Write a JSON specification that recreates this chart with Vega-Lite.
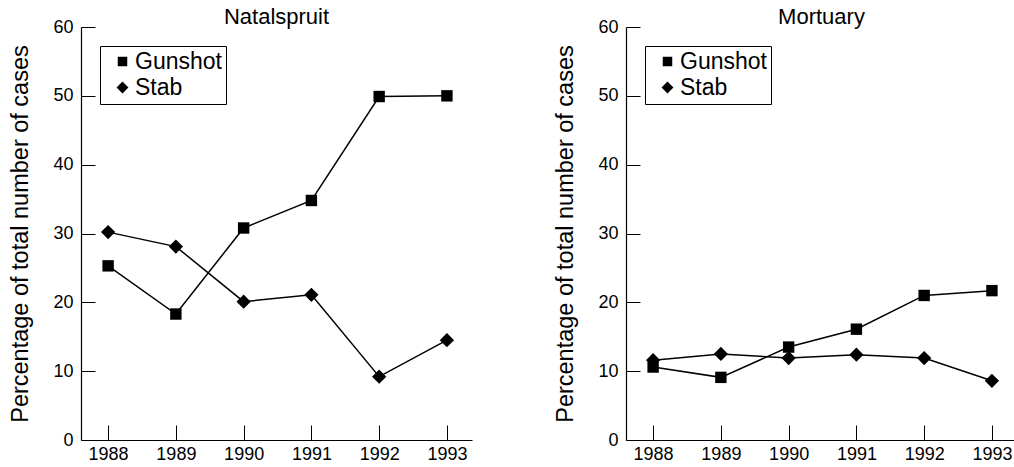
{
  "$schema": "https://vega.github.io/schema/vega-lite/v6.json",
  "padding": {"left": 8, "top": 6, "right": 0, "bottom": 0},
  "spacing": 81,
  "config": {
    "font": "Liberation Sans",
    "view": {"stroke": null},
    "axis": {
      "grid": false,
      "domainColor": "black",
      "tickColor": "black",
      "labelColor": "black",
      "titleColor": "black",
      "labelFont": "Liberation Sans",
      "titleFont": "Liberation Sans",
      "labelFontSize": 18,
      "titleFontSize": 23.5,
      "titleFontWeight": "normal",
      "domainWidth": 1.2,
      "tickWidth": 1
    },
    "title": {"font": "Liberation Sans", "fontSize": 22, "fontWeight": "normal", "color": "black", "offset": -11},
    "legend": {
      "orient": "top-left",
      "offset": 19,
      "strokeColor": "black",
      "fillColor": "white",
      "padding": 4,
      "labelFontSize": 23,
      "labelFont": "Liberation Sans",
      "labelColor": "black",
      "symbolSize": 90,
      "symbolOffset": 7,
      "rowPadding": 2,
      "labelOffset": 1
    }
  },
  "datasets": {
    "d": [
      {"site": "Natalspruit", "year": 1988, "type": "Gunshot", "pct": 25.3},
      {"site": "Natalspruit", "year": 1989, "type": "Gunshot", "pct": 18.3},
      {"site": "Natalspruit", "year": 1990, "type": "Gunshot", "pct": 30.8},
      {"site": "Natalspruit", "year": 1991, "type": "Gunshot", "pct": 34.8},
      {"site": "Natalspruit", "year": 1992, "type": "Gunshot", "pct": 49.9},
      {"site": "Natalspruit", "year": 1993, "type": "Gunshot", "pct": 50.0},
      {"site": "Natalspruit", "year": 1988, "type": "Stab", "pct": 30.2},
      {"site": "Natalspruit", "year": 1989, "type": "Stab", "pct": 28.1},
      {"site": "Natalspruit", "year": 1990, "type": "Stab", "pct": 20.1},
      {"site": "Natalspruit", "year": 1991, "type": "Stab", "pct": 21.1},
      {"site": "Natalspruit", "year": 1992, "type": "Stab", "pct": 9.2},
      {"site": "Natalspruit", "year": 1993, "type": "Stab", "pct": 14.5},
      {"site": "Mortuary", "year": 1988, "type": "Gunshot", "pct": 10.6},
      {"site": "Mortuary", "year": 1989, "type": "Gunshot", "pct": 9.1},
      {"site": "Mortuary", "year": 1990, "type": "Gunshot", "pct": 13.5},
      {"site": "Mortuary", "year": 1991, "type": "Gunshot", "pct": 16.1},
      {"site": "Mortuary", "year": 1992, "type": "Gunshot", "pct": 21.0},
      {"site": "Mortuary", "year": 1993, "type": "Gunshot", "pct": 21.7},
      {"site": "Mortuary", "year": 1988, "type": "Stab", "pct": 11.6},
      {"site": "Mortuary", "year": 1989, "type": "Stab", "pct": 12.5},
      {"site": "Mortuary", "year": 1990, "type": "Stab", "pct": 11.9},
      {"site": "Mortuary", "year": 1991, "type": "Stab", "pct": 12.4},
      {"site": "Mortuary", "year": 1992, "type": "Stab", "pct": 11.9},
      {"site": "Mortuary", "year": 1993, "type": "Stab", "pct": 8.6}
    ]
  },
  "resolve": {"scale": {"shape": "independent"}, "legend": {"shape": "independent"}},
  "hconcat": [
    {
      "title": "Natalspruit",
      "width": 391,
      "height": 413,
      "data": {"name": "d"},
      "transform": [{"filter": "datum.site === 'Natalspruit'"}],
      "encoding": {
        "x": {"field": "year", "type": "quantitative", "scale": {"domain": [1987.6, 1993.37], "nice": false, "zero": false},
              "axis": {"title": null, "values": [1988, 1989, 1990, 1991, 1992, 1993], "format": "d", "tickSize": -15, "labelPadding": 20}},
        "y": {"field": "pct", "type": "quantitative", "scale": {"domain": [0, 60], "nice": false},
              "axis": {"title": "Percentage of total number of cases", "values": [0, 10, 20, 30, 40, 50, 60], "tickSize": -14, "labelPadding": 22, "titlePadding": 20}}
      },
      "layer": [
        {"mark": {"type": "line", "color": "black", "strokeWidth": 1.5}, "encoding": {"detail": {"field": "type"}}},
        {"mark": {"type": "point", "filled": true, "color": "black", "opacity": 1, "size": 130},
         "encoding": {
           "shape": {"field": "type", "type": "nominal", "scale": {"domain": ["Gunshot", "Stab"], "range": ["square", "M-1.25,0L0,-1.25L1.25,0L0,1.25Z"]}, "legend": {"title": null}}
         }}
      ]
    },
    {
      "title": "Mortuary",
      "width": 391,
      "height": 413,
      "data": {"name": "d"},
      "transform": [{"filter": "datum.site === 'Mortuary'"}],
      "encoding": {
        "x": {"field": "year", "type": "quantitative", "scale": {"domain": [1987.6, 1993.37], "nice": false, "zero": false},
              "axis": {"title": null, "values": [1988, 1989, 1990, 1991, 1992, 1993], "format": "d", "tickSize": -15, "labelPadding": 20}},
        "y": {"field": "pct", "type": "quantitative", "scale": {"domain": [0, 60], "nice": false},
              "axis": {"title": "Percentage of total number of cases", "values": [0, 10, 20, 30, 40, 50, 60], "tickSize": -14, "labelPadding": 22, "titlePadding": 20}}
      },
      "layer": [
        {"mark": {"type": "line", "color": "black", "strokeWidth": 1.5}, "encoding": {"detail": {"field": "type"}}},
        {"mark": {"type": "point", "filled": true, "color": "black", "opacity": 1, "size": 130},
         "encoding": {
           "shape": {"field": "type", "type": "nominal", "scale": {"domain": ["Gunshot", "Stab"], "range": ["square", "M-1.25,0L0,-1.25L1.25,0L0,1.25Z"]}, "legend": {"title": null}}
         }}
      ]
    }
  ]
}
